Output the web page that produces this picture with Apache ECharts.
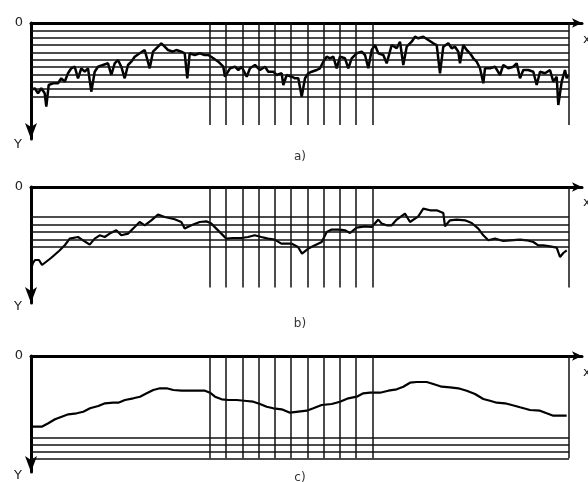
<!DOCTYPE html>
<html><head><meta charset="utf-8">
<script src="https://cdn.jsdelivr.net/npm/echarts/dist/echarts.min.js"></script>
<style>html,body{margin:0;padding:0;background:#fff}#c{width:588px;height:482px}</style>
</head><body><div id="c"></div><script>
// x: horizontal position (0 = left axis), y: depth below the top axis (Y axis points down)
const seriesA = [[0.3,67],[3.7,65.3],[7,70.3],[10.3,65.3],[13.7,70.3],[15.3,83.7],[17.7,62],[22,60.3],[27,60.3],[30.3,55.3],[33.7,58.7],[37,50.3],[40.3,45.3],[43.7,43.7],[47,55.3],[50.3,45.3],[53.7,48.7],[57,45.3],[60.3,68.7],[63.7,48.7],[67,43.7],[72,42],[77,40.3],[80.3,52],[83.7,40.3],[87,37],[90.3,43.7],[93.7,55.3],[97,42],[100.3,38.7],[103.7,33.7],[108.7,30.3],[113.7,27],[118.7,45.3],[122,28.7],[125.3,25.3],[130.3,20.3],[133.7,23.7],[137,27],[142,28.7],[145.3,27],[150.3,28.7],[153.7,30.3],[156.3,55.3],[158.7,30.3],[163.7,32],[168.7,30.3],[173.7,32],
[177.3,32],[182.3,35.3],[187.3,38.7],[192.3,43.7],[194,53.7],[199,45.3],[204,43.7],[207.3,47],[210.7,43.7],[215.7,53.7],[219,45.3],[224,42],[229,47],[234,43.7],[237.3,48.7],[242.3,48.7],[245.7,52],[250.7,50.3],[252.3,62],[255.7,52],[260.7,53.7],[264,55.3],[267.3,55.3],[270.7,73.7],[274,55.3],[277.3,50.3],[280.7,48.7],[285.7,47],[289,45.3],[292.3,38.7],[295.7,33.7],[299,35.3],[302.3,33.7],[305.7,45.3],[309,33.7],[314,35.3],[317.3,45.3],[320.7,35.3],[325.7,30.3],[330.7,28.7],[334,32],[337.3,45.3],[340.7,27],[344,22],[347.3,30.3],[352.3,32],
[355.7,40.3],[360.7,22],[365.7,25.3],[369,18.7],[372.3,42],[375.7,23.7],[380.7,18.7],[384,13.7],[387.3,15.3],[392.3,13.7],[397.3,17],[402.3,20.3],[405.7,22],[409,50.3],[412.3,23.7],[417.3,20.3],[420.7,25.3],[424,23.7],[427.3,28.7],[429,40.3],[432.3,22],[435.7,27],[439,30.3],[442.3,35.3],[445.7,38.7],[449,45.3],[452.3,60.3],[454,45.3],[459,45.3],[464,43.7],[469,52],[472.3,42],[477.3,45.3],[482.3,43.7],[485.7,40.3],[489,55.3],[492.3,47],[497.3,47],[502.3,48.7],[505.7,62],[509,48.7],[514,50.3],[519,47],[522.3,58.7],[525.7,53.7],[527.3,82],[530.7,58.7],[534,47],[535.7,55.3],[537.3,52]];

const seriesB = [[0,82],[2,76],[4,73],[8,73],[11,78],[20,71],[28,64],[34,58],[38.7,51.6],[47,50],[52,53.3],[58.7,57.6],[63.7,51.6],[68.7,48.3],[73.7,50],[78.7,46.6],[85.3,43.3],[90.3,48.3],[97,46.6],[103.7,40],[108.7,35],[113.7,38.3],[120.3,33.3],[127,27.6],[133.7,30],[143.7,32.3],[150.3,35],[153.7,41.6],[160.3,38.3],[168.7,35],[175.3,34.3],[180.3,36.6],[185.3,41.6],[190.3,46.6],[195.3,51.6],[202,51],[210.3,51],[217,50],[223.7,48.3],[230.3,50],[237,51.6],[243.7,52.6],[250.3,56.6],[260.3,56.6],[267,60],[271,66.6],[277.3,61.6],[284,58.3],[290.7,55],[295.7,45],[300.7,42.6],[309,42.6],[314,43.3],[319,46],[325.7,40.6],[334,39.3],[340.7,40],[347.3,32.6],[350.7,36.6],[355.7,38.3],[360.7,38.3],[365.7,32.6],[374,26.6],[379,35],[387.3,29.3],[392.3,21.6],[399,23.3],[405.7,23.3],[412.3,26],[414,39.3],[419,33.3],[425.7,32.6],[434,33.3],[440.7,36],[447.3,41.6],[452.3,48.3],[457.3,53.3],[464,51.6],[472.3,54],[479,53.3],[489,52.6],[495.7,53.3],[502.3,55],[507.3,58.3],[512.3,58.3],[519,59.3],[525.7,60.6],[529,70],[532.3,66],[535.7,63.3]];

const seriesC = [[0.7,70.7],[10.7,70.7],[17.3,67.3],[24,63.3],[30.7,60.7],[37.3,58.3],[45.7,57.3],[52.3,55.7],[59,52.3],[67.3,50],[74,47.3],[82.3,46.7],[87.3,46.7],[94,44],[102.3,42.3],[109,40.7],[115.7,37.3],[122.3,34],[129,32.3],[135.7,32.3],[142.3,34],[150.7,34.7],[159,34.7],[169,34.7],[174,34.7],[179,36.7],[184,40.7],[190.7,43.3],[197.3,44],[205.7,44],[215.7,45],[222.3,45.7],[229,48],[235.7,50.7],[242.3,52.3],[250.7,53.3],[259,56.7],[275.7,54.7],[282.3,52.3],[290.7,49],[300.7,48],[309,45.7],[317.3,42.3],[325.7,40.7],[332.3,37.3],[339,36.7],[349,36.7],[357.3,34.7],[365.7,33.3],[372.3,30.7],[379,26.7],[385.7,26],[395.7,26],[402.3,28],[410.7,30.7],[419,31.3],[427.3,32.3],[435.7,34.7],[444,38],[452.3,43],[459,44.7],[465.7,46.7],[474,47.3],[480.7,49],[489,51.3],[499,54],[509,54.7],[515.7,57.3],[522.3,59.7],[535.7,59.7]];

const hLinesA = [7.3,14.7,22,29.3,36.7,44,51.3,58.7,66,73.3];
const hLinesB = [30,37.5,45,52.3,60];
const hLinesC = [81.3,88.3,95.3,102.3];
const vLinesX = [179,195.2,211.5,227.7,243.9,260.2,276.4,292.6,308.8,325.1,341.3];
const rightEdgeX = 538;
const vBottoms = [102, 100.6, 102.3];
const captions = ['a)','b)','c)'];
const zeroLabel = '0';

const panelTops = [23, 187, 356];
const allSeries = [seriesA, seriesB, seriesC];
const allH = [hLinesA, hLinesB, hLinesC];
const lineWidths = [2.5, 2.2, 2.2];
const FONT = 'DejaVu Sans';

const chart = echarts.init(document.getElementById('c'), null, {renderer:'canvas'});
const grid = panelTops.map(t => ({left:31, top:t, width:551, height:116}));
const xAxis = panelTops.map((t,i) => ({type:'value', gridIndex:i, min:0, max:551, position:'top',
  axisLine:{show:true, onZero:false, symbol:['none','arrow'], symbolSize:[7,10], lineStyle:{color:'#000', width:3}},
  axisTick:{show:false}, axisLabel:{show:false}, splitLine:{show:false}}));
const yAxis = panelTops.map((t,i) => ({type:'value', gridIndex:i, min:0, max:116, inverse:true,
  axisLine:{show:true, onZero:false, symbol:['arrow','none'], symbolSize:[9,16], lineStyle:{color:'#000', width:3}},
  axisTick:{show:false}, splitLine:{show:false},
  axisLabel:{show:true, showMaxLabel:false, formatter:v => v === 0 ? zeroLabel : '', color:'#222', fontSize:13, margin:8, fontFamily:FONT}}));

const series = allSeries.map((d,i) => {
  const ml = [];
  allH[i].forEach(h => ml.push([{coord:[0,h]},{coord:[rightEdgeX,h]}]));
  vLinesX.forEach(x => ml.push([{coord:[x,0]},{coord:[x,vBottoms[i]]}]));
  ml.push([{coord:[rightEdgeX,0]},{coord:[rightEdgeX,vBottoms[i]]}]);
  return {type:'line', xAxisIndex:i, yAxisIndex:i, data:d, symbol:'none', z:3, animation:false,
    lineStyle:{color:'#000', width:lineWidths[i]},
    markLine:{silent:true, animation:false, symbol:['none','none'], label:{show:false},
      lineStyle:{color:'#111', width:1.5, type:'solid'}, emphasis:{disabled:true}, data:ml}};
});

const graphic = [];
const yLabelY = [145, 307, 476];
const xLabelY = [40, 203, 373];
const capY = [157, 324, 478];
panelTops.forEach((t,i) => {
  graphic.push({type:'text', x:18, y:yLabelY[i], style:{text:'Y', align:'center', verticalAlign:'middle', font:'13px "DejaVu Sans"', fill:'#222'}});
  graphic.push({type:'text', x:583, y:xLabelY[i], style:{text:'x', align:'left', verticalAlign:'middle', font:'13px "DejaVu Sans"', fill:'#222'}});
  graphic.push({type:'text', x:300, y:capY[i], style:{text:captions[i], align:'center', verticalAlign:'middle', font:'12px "DejaVu Sans"', fill:'#333'}});
});

chart.setOption({animation:false, backgroundColor:'#fff', grid, xAxis, yAxis, series, graphic});
</script></body></html>
